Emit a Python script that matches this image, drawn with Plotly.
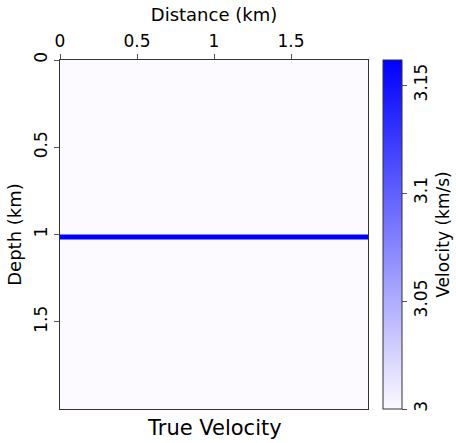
import plotly.graph_objects as go

# Velocity model: layer boundaries (km) and velocity of each layer (km/s)
distance_edges = [0.0, 2.0]
depth_edges = [0.0, 0.995, 1.0, 1.024, 1.03, 2.0]
layer_velocity = [3.0, 3.08, 3.1616, 3.08, 3.0]

x_ticks = [0, 0.5, 1, 1.5]
x_tick_text = ["0", "0.5", "1", "1.5"]
y_ticks = [0, 0.5, 1, 1.5]
y_tick_text = ["0", "0.5", "1", "1.5"]
cb_ticks = [3.0, 3.05, 3.1, 3.15]
cb_tick_text = ["3", "3.05", "3.1", "3.15"]

z = [[v] for v in layer_velocity]

FONT = "DejaVu Sans"

fig = go.Figure(
    go.Heatmap(
        x=distance_edges,
        y=depth_edges,
        z=z,
        zmin=3.0,
        zmax=3.1616,
        colorscale=[[0, "#fcfafe"], [1, "#0000ff"]],
        colorbar=dict(
            x=(383 - 60) / 308,
            xanchor="left",
            xpad=0,
            ypad=0,
            y=0.5,
            len=1,
            lenmode="fraction",
            thickness=19,
            thicknessmode="pixels",
            outlinewidth=1,
            outlinecolor="#333333",
            tickvals=cb_ticks,
            ticktext=cb_tick_text,
            ticks="outside",
            ticklen=5,
            tickcolor="#555555",
            tickangle=-90,
            tickfont=dict(family=FONT, size=17, color="black"),
            title=dict(text="Velocity (km/s)", side="right",
                       font=dict(family=FONT, size=17, color="black")),
        ),
        showscale=True,
    )
)

fig.update_layout(
    width=456,
    height=443,
    margin=dict(l=60, r=88, t=60, b=34, autoexpand=False),
    paper_bgcolor="white",
    plot_bgcolor="white",
    font=dict(family=FONT, size=17, color="black"),
    xaxis=dict(
        side="top",
        range=[0, 2.0],
        tickvals=x_ticks,
        ticktext=x_tick_text,
        ticks="outside",
        ticklen=5,
        tickcolor="#555555",
        showgrid=False,
        zeroline=False,
        showline=True,
        linecolor="#333333",
        linewidth=1,
        mirror=True,
        title=dict(text="Distance (km)", standoff=4, font=dict(size=18)),
        tickfont=dict(size=17),
    ),
    yaxis=dict(
        range=[2.0, 0],
        tickvals=y_ticks,
        ticktext=y_tick_text,
        ticks="outside",
        ticklen=5,
        tickcolor="#555555",
        tickangle=-90,
        showgrid=False,
        zeroline=False,
        showline=True,
        linecolor="#333333",
        linewidth=1,
        mirror=True,
        title=dict(text="Depth (km)", standoff=4, font=dict(size=18)),
        tickfont=dict(size=17),
    ),
    annotations=[
        dict(text="True Velocity", xref="paper", yref="paper", x=0.5, y=0,
             yshift=-19, xanchor="center", yanchor="middle", showarrow=False,
             font=dict(family=FONT, size=21, color="black"))
    ],
)

fig.write_html("out.html")
